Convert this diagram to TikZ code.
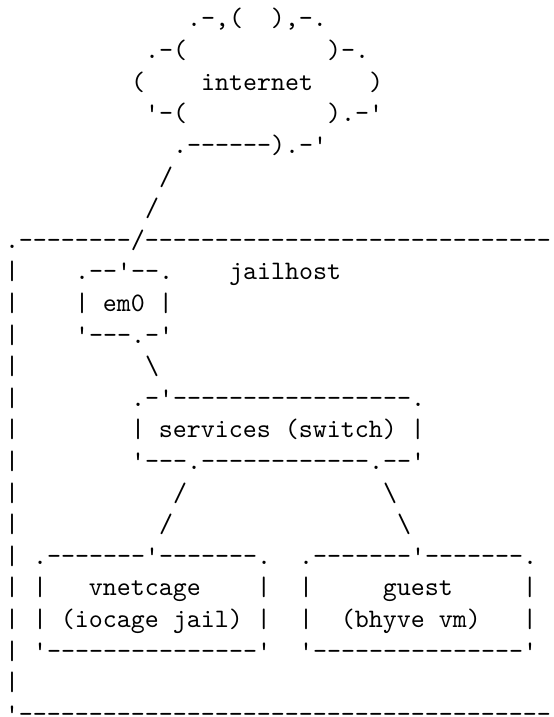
\documentclass[tikz,border=0pt]{standalone}
\usepackage{tikz}

\newcommand{\apos}{\textquotesingle}
\newcommand{\bsl}{\textbackslash}
\tikzset{ascii/.style={anchor=base west,inner sep=0pt,outer sep=0pt,font=\ttfamily}}

\begin{document}
\begin{tikzpicture}[x=5.25pt,y=-11.85pt]
 \path[use as bounding box,fill=white] (-1.875pt,10.125pt) rectangle (205.5pt,-258.75pt);
 % the cloud
 \node[ascii] (cloudA) at (13,0) {.-,(\ \ ),-.};
 \node[ascii] (cloudBl) at (10,1) {.-(};
 \node[ascii] (cloudBr) at (23,1) {)-.};
 \node[ascii] (cloudCl) at (9,2) {(};
 \node[ascii] (inet) at (14,2) {internet};
 \node[ascii] (cloudCr) at (26,2) {)};
 \node[ascii] (cloudDl) at (10,3) {\apos-(};
 \node[ascii] (cloudDr) at (23,3) {).-\apos};
 \node[ascii] (cloudE) at (12,4) {.------).-\apos};
 \node[ascii] (upA) at (11,5) {/};
 \node[ascii] (upB) at (10,6) {/};
 % jailhost frame
 \node[ascii] (hostTop) at (0,7) {.--------/-----------------------------};
 \foreach \r in {8,...,21}
  \node[ascii] (hostL\r) at (0,\r) {|};
 \node[ascii] (hostBot) at (0,22) {\apos--------------------------------------};
 \node[ascii] (hostName) at (16,8) {jailhost};
 % em0
 \node[ascii] (emTop) at (5,8) {.--\apos--.};
 \node[ascii] (emMid) at (5,9) {|\ em0\ |};
 \node[ascii] (emBot) at (5,10) {\apos---.-\apos};
 \node[ascii] (emLink) at (10,11) {\bsl};
 % switch
 \node[ascii] (swTop) at (9,12) {.-\apos-----------------.};
 \node[ascii] (swMid) at (9,13) {|\ services\ (switch)\ |};
 \node[ascii] (swBot) at (9,14) {\apos---.------------.--\apos};
 \node[ascii] (linkLa) at (12,15) {/};
 \node[ascii] (linkRa) at (27,15) {\bsl};
 \node[ascii] (linkLb) at (11,16) {/};
 \node[ascii] (linkRb) at (28,16) {\bsl};
 % jail and vm
 \node[ascii] (jailTop) at (2,17) {.-------\apos-------.};
 \node[ascii] (jailA) at (2,18) {|\ \ \ vnetcage\ \ \ \ |};
 \node[ascii] (jailB) at (2,19) {|\ (iocage\ jail)\ |};
 \node[ascii] (jailBot) at (2,20) {\apos---------------\apos};
 \node[ascii] (vmTop) at (21,17) {.-------\apos-------.};
 \node[ascii] (vmA) at (21,18) {|\ \ \ \ \ guest\ \ \ \ \ |};
 \node[ascii] (vmB) at (21,19) {|\ \ (bhyve\ vm)\ \ \ |};
 \node[ascii] (vmBot) at (21,20) {\apos---------------\apos};
\end{tikzpicture}
\end{document}
